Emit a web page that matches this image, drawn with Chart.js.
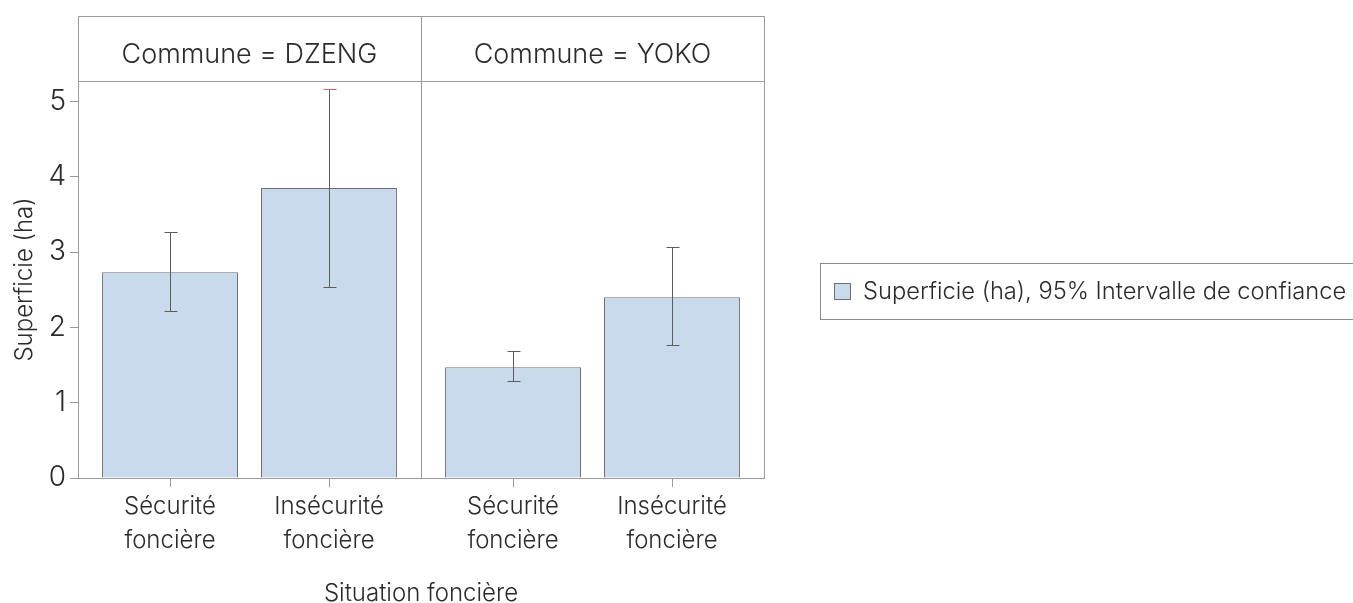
<!DOCTYPE html>
<html lang="fr">
<head>
<meta charset="utf-8">
<title>Superficie (ha) par situation foncière</title>
<script src="https://cdn.jsdelivr.net/npm/chart.js@4.4.1/dist/chart.umd.min.js"></script>
<style>
  html, body { margin: 0; padding: 0; background: #fff; }
  #wrap { width: 1353px; height: 603px; position: relative; }
</style>
</head>
<body>
<div id="wrap"><canvas id="chart"></canvas></div>
<script>
// Données
const communes = ['DZENG', 'YOKO'];
const situations = ['Sécurité foncière', 'Insécurité foncière'];
const moyenneSecurite = [2.73, 1.47];
const moyenneInsecurite = [3.85, 2.40];
const icBasSecurite = [2.22, 1.29];
const icHautSecurite = [3.27, 1.68];
const icBasInsecurite = [2.53, 1.77];
const icHautInsecurite = [5.17, 3.07];
const yTicks = [0, 1, 2, 3, 4, 5];
const legendLabel = 'Superficie (ha), 95% Intervalle de confiance';

const FONT = 'Inter, "Open Sans", sans-serif';
const WEIGHT = 300;
const TEXT = '#2b2b2b';
const LINE = '#9a9a9a';
const BAR_FILL = '#c9daec';
const BAR_EDGE = '#6e6e6e';
const ERR = '#5c5c5c';

Chart.defaults.font.family = FONT;
Chart.defaults.font.weight = WEIGHT;
Chart.defaults.color = TEXT;

// cadre des panneaux + bandeau d'en-tête
const panelFrame = {
  id: 'panelFrame',
  afterDatasetsDraw(chart) {
    const { ctx, chartArea: a, scales: { x, x2 } } = chart;
    const top = Math.round(x2.top);
    const mid = Math.round((x.getPixelForValue(0) + x.getPixelForValue(1)) / 2) + 0.5;
    ctx.save();
    ctx.strokeStyle = LINE;
    ctx.lineWidth = 1;
    ctx.beginPath();
    ctx.rect(Math.round(a.left) + 0.5, top + 0.5, Math.round(a.right - a.left), Math.round(a.bottom) - top);
    ctx.moveTo(a.left, Math.round(a.top) + 0.5);
    ctx.lineTo(a.right, Math.round(a.top) + 0.5);
    ctx.moveTo(mid, top);
    ctx.lineTo(mid, a.bottom);
    ctx.stroke();
    ctx.restore();
  }
};

// barres d'erreur (IC 95%)
const errorBars = {
  id: 'errorBars',
  afterDatasetsDraw(chart) {
    const { ctx, chartArea: a, scales: { y } } = chart;
    const ic = [[icBasSecurite, icHautSecurite], [icBasInsecurite, icHautInsecurite]];
    ctx.save();
    ctx.lineWidth = 1;
    chart.data.datasets.forEach((ds, d) => {
      chart.getDatasetMeta(d).data.forEach((bar, i) => {
        const px = Math.round(bar.x) + 0.5;
        const lo = Math.round(y.getPixelForValue(ic[d][0][i])) + 0.5;
        const hi = Math.round(y.getPixelForValue(ic[d][1][i])) + 0.5;
        ctx.strokeStyle = ERR;
        ctx.beginPath();
        ctx.moveTo(px, lo); ctx.lineTo(px, hi);
        ctx.moveTo(px - 6, lo); ctx.lineTo(px + 7, lo);
        ctx.stroke();
        // le chapeau qui frôle le haut du panneau est rouge
        ctx.strokeStyle = hi < a.top + 12 ? '#d6606c' : ERR;
        ctx.beginPath();
        ctx.moveTo(px - 6, hi); ctx.lineTo(px + 7, hi);
        ctx.stroke();
      });
    });
    ctx.restore();
  }
};

// étiquettes des situations sous chaque barre
const situationLabels = {
  id: 'situationLabels',
  afterDraw(chart) {
    const { ctx, chartArea: a } = chart;
    ctx.save();
    ctx.font = `${WEIGHT} 24px ${FONT}`;
    ctx.fillStyle = TEXT;
    ctx.textAlign = 'center';
    ctx.textBaseline = 'middle';
    ctx.strokeStyle = LINE;
    ctx.lineWidth = 1;
    chart.data.datasets.forEach((ds, d) => {
      const lines = situations[d].split(' ');
      chart.getDatasetMeta(d).data.forEach(bar => {
        const px = Math.round(bar.x) + 0.5;
        ctx.beginPath();
        ctx.moveTo(px, a.bottom);
        ctx.lineTo(px, a.bottom + 9);
        ctx.stroke();
        lines.forEach((t, k) => ctx.fillText(t, bar.x, a.bottom + 29 + k * 34));
      });
    });
    ctx.restore();
  }
};

// légende encadrée à droite
const boxLegend = {
  id: 'boxLegend',
  afterDraw(chart) {
    const { ctx, chartArea: a } = chart;
    const left = a.right + 56;
    const cy = (a.top + a.bottom) / 2 + 11;
    ctx.save();
    ctx.strokeStyle = '#8a8a8a';
    ctx.lineWidth = 1;
    ctx.strokeRect(Math.round(left) + 0.5, Math.round(cy - 28) + 0.5, 600, 56);
    ctx.fillStyle = BAR_FILL;
    ctx.fillRect(Math.round(left) + 14, Math.round(cy - 8), 16, 16);
    ctx.strokeStyle = BAR_EDGE;
    ctx.strokeRect(Math.round(left) + 14.5, Math.round(cy - 8) + 0.5, 16, 16);
    ctx.font = `${WEIGHT} 23.7px ${FONT}`;
    ctx.fillStyle = TEXT;
    ctx.textBaseline = 'middle';
    ctx.fillText(legendLabel, left + 43, cy + 1);
    ctx.restore();
  }
};

new Chart(document.getElementById('chart'), {
  type: 'bar',
  data: {
    labels: communes,
    datasets: [
      { label: situations[0], data: moyenneSecurite },
      { label: situations[1], data: moyenneInsecurite }
    ].map(ds => Object.assign(ds, {
      backgroundColor: BAR_FILL,
      borderColor: BAR_EDGE,
      borderWidth: 1,
      categoryPercentage: 0.927,
      barPercentage: 0.855
    }))
  },
  options: {
    responsive: true,
    maintainAspectRatio: false,
    animation: false,
    layout: { padding: { top: 16, right: 589, left: 0, bottom: 0 } },
    plugins: {
      legend: { display: false },
      tooltip: { enabled: false }
    },
    scales: {
      x: {
        type: 'category',
        offset: true,
        grid: { display: false, drawTicks: false },
        border: { display: true, color: LINE },
        ticks: { display: false },
        title: { display: true, text: 'Situation foncière', font: { size: 24, lineHeight: 0.8 }, color: TEXT, padding: { top: 0, bottom: 0 } },
        afterFit: s => { s.height = 125; }
      },
      x2: {
        type: 'category',
        labels: communes,
        position: 'top',
        offset: true,
        grid: { display: false, drawTicks: false },
        border: { display: false },
        ticks: {
          padding: 10,
          font: { size: 27 },
          color: TEXT,
          callback: function (v) { return 'Commune = ' + this.getLabelForValue(v); }
        },
        afterFit: s => { s.height = 65; }
      },
      y: {
        min: 0,
        max: 5.27,
        afterBuildTicks: s => { s.ticks = yTicks.map(v => ({ value: v })); },
        grid: { drawOnChartArea: false, tickLength: 8, color: LINE },
        border: { display: true, color: LINE },
        ticks: { padding: 4, font: { size: 28 }, color: TEXT },
        title: { display: true, text: 'Superficie (ha)', font: { size: 24 }, color: TEXT, padding: { top: 10, bottom: 0 } },
        afterFit: s => { s.width = 78; }
      }
    }
  },
  plugins: [panelFrame, errorBars, situationLabels, boxLegend]
});
</script>
</body>
</html>
